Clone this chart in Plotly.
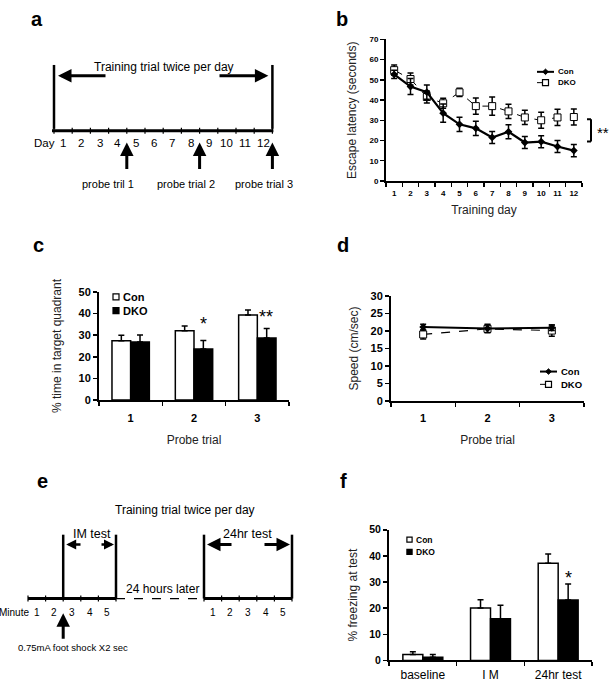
import plotly.graph_objects as go

# ---------------- data ----------------
days = [str(i) for i in range(1, 13)]
b_con = [52.7, 46.7, 43.9, 33.5, 28.0, 26.0, 21.5, 24.3, 19.0, 19.4, 17.0, 15.0]
b_con_err = [2.0, 4.0, 3.5, 4.5, 3.5, 3.5, 3.0, 3.5, 3.0, 3.0, 3.0, 3.0]
b_dko = [54.8, 50.4, 41.5, 38.4, 43.8, 37.0, 37.0, 34.4, 31.4, 30.0, 31.4, 31.6]
b_dko_err = [2.5, 3.0, 3.0, 2.5, 2.0, 4.0, 4.5, 3.5, 3.5, 4.0, 4.0, 4.0]

probe = ["1", "2", "3"]
c_con = [27.4, 32.0, 39.3]
c_con_err = [2.6, 2.2, 2.4]
c_dko = [26.8, 23.6, 28.7]
c_dko_err = [3.3, 4.0, 4.4]
c_sig = ["", "*", "**"]

d_con = [21.1, 20.7, 20.9]
d_con_err = [0.8, 1.2, 0.8]
d_dko = [19.0, 20.6, 20.1]
d_dko_err = [1.3, 1.0, 1.6]

f_cats = ["baseline", "I M", "24hr test"]
f_con = [2.3, 20.1, 37.2]
f_con_err = [1.0, 3.1, 3.5]
f_dko = [1.2, 16.0, 23.1]
f_dko_err = [1.1, 5.1, 6.2]
f_sig = ["", "", "*"]

series = ["Con", "DKO"]
a_day_labels = [str(i) for i in range(1, 13)]
a_probe_days = [4, 8, 12]
a_probe_labels = ["probe tril 1", "probe trial 2", "probe trial 3"]
e_minutes = ["1", "2", "3", "4", "5"]

# ---------------- helpers ----------------
W, H = 614, 693
FONT = "Liberation Sans, Arial, sans-serif"


def px(x):
    return x / W


def py(y):
    return 1 - y / H


shapes = []
annotations = []


def seg(x0, y0, x1, y1, w=2.0, dash=None):
    shapes.append(dict(type="line", xref="paper", yref="paper",
                       x0=px(x0), y0=py(y0), x1=px(x1), y1=py(y1),
                       line=dict(color="black", width=w, dash=dash)))


def text(x, y, s, size=12, bold=False, xanchor="center", yanchor="middle"):
    annotations.append(dict(xref="paper", yref="paper", x=px(x), y=py(y), text=s,
                            showarrow=False, xanchor=xanchor, yanchor=yanchor,
                            font=dict(family=FONT, size=size, color="black",
                                      weight="bold" if bold else "normal")))


def arrow(xh, yh, xt, yt, w=3.0, size=0.9):
    annotations.append(dict(xref="paper", yref="paper", x=px(xh), y=py(yh),
                            ax=xt - xh, ay=yt - yh, axref="pixel", ayref="pixel",
                            text="", showarrow=True, arrowhead=2, arrowsize=size,
                            arrowwidth=w, arrowcolor="black"))


def square(x, y, r, filled):
    shapes.append(dict(type="rect", xref="paper", yref="paper",
                       x0=px(x - r), x1=px(x + r), y0=py(y + r), y1=py(y - r),
                       fillcolor="black" if filled else "white",
                       line=dict(color="black", width=1.2)))


def diamond(x, y, r):
    path = (f"M {px(x)},{py(y - r)} L {px(x + r)},{py(y)} "
            f"L {px(x)},{py(y + r)} L {px(x - r)},{py(y)} Z")
    shapes.append(dict(type="path", xref="paper", yref="paper", path=path,
                       fillcolor="black", line=dict(color="black", width=1)))


def line_legend(x, y0, dy, size):
    seg(x, y0, x + 17, y0, 2)
    diamond(x + 8.5, y0, 2.8)
    text(x + 19, y0, series[0], size=size, bold=True, xanchor="left")
    seg(x, y0 + dy, x + 17, y0 + dy, 1, "dash")
    square(x + 8.5, y0 + dy, 3, False)
    text(x + 19, y0 + dy, series[1], size=size, bold=True, xanchor="left")


def bar_legend(x, y0, dy, size, r):
    square(x, y0, r, False)
    text(x + r + 2, y0, series[0], size=size, bold=True, xanchor="left")
    square(x, y0 + dy, r, True)
    text(x + r + 2, y0 + dy, series[1], size=size, bold=True, xanchor="left")


# ---------------- figure ----------------
fig = go.Figure()

err_style = dict(type="data", color="black", thickness=1.5, width=3)

# Panel b
fig.add_trace(go.Scatter(x=days, y=b_dko, name=series[1], mode="lines+markers",
                         line=dict(color="black", width=1, dash="dash"),
                         marker=dict(symbol="square", size=7, color="white",
                                     line=dict(color="black", width=1)),
                         error_y=dict(array=b_dko_err, **err_style),
                         xaxis="x", yaxis="y", showlegend=False))
fig.add_trace(go.Scatter(x=days, y=b_con, name=series[0], mode="lines+markers",
                         line=dict(color="black", width=2.2),
                         marker=dict(symbol="diamond", size=6, color="black"),
                         error_y=dict(array=b_con_err, **err_style),
                         xaxis="x", yaxis="y", showlegend=False))

# Panel c
fig.add_trace(go.Bar(x=probe, y=c_con, name=series[0],
                     marker=dict(color="white", line=dict(color="black", width=1.5)),
                     error_y=dict(array=c_con_err, arrayminus=[0] * 3, symmetric=False,
                                  **err_style),
                     xaxis="x2", yaxis="y2", showlegend=False))
fig.add_trace(go.Bar(x=probe, y=c_dko, name=series[1],
                     marker=dict(color="black", line=dict(color="black", width=1.5)),
                     error_y=dict(array=c_dko_err, arrayminus=[0] * 3, symmetric=False,
                                  **err_style),
                     xaxis="x2", yaxis="y2", showlegend=False))

# Panel d
fig.add_trace(go.Scatter(x=probe, y=d_dko, name=series[1], mode="lines+markers",
                         line=dict(color="black", width=1.2, dash="dash"),
                         marker=dict(symbol="square", size=7, color="white",
                                     line=dict(color="black", width=1)),
                         error_y=dict(array=d_dko_err, **err_style),
                         xaxis="x3", yaxis="y3", showlegend=False))
fig.add_trace(go.Scatter(x=probe, y=d_con, name=series[0], mode="lines+markers",
                         line=dict(color="black", width=2),
                         marker=dict(symbol="diamond", size=6, color="black"),
                         error_y=dict(array=d_con_err, **err_style),
                         xaxis="x3", yaxis="y3", showlegend=False))

# Panel f
fig.add_trace(go.Bar(x=f_cats, y=f_con, name=series[0],
                     marker=dict(color="white", line=dict(color="black", width=1.5)),
                     error_y=dict(array=f_con_err, arrayminus=[0] * 3, symmetric=False,
                                  **err_style),
                     xaxis="x4", yaxis="y4", showlegend=False))
fig.add_trace(go.Bar(x=f_cats, y=f_dko, name=series[1],
                     marker=dict(color="black", line=dict(color="black", width=1.5)),
                     error_y=dict(array=f_dko_err, arrayminus=[0] * 3, symmetric=False,
                                  **err_style),
                     xaxis="x4", yaxis="y4", showlegend=False))


def xax(dom, anchor, size, title, standoff, rng, bold=True, lstand=4):
    return dict(domain=[px(dom[0]), px(dom[1])], anchor=anchor, type="category",
                range=rng, tickangle=0,
                showline=True, linecolor="black", linewidth=2, mirror=False,
                ticks="outside", ticklen=4, tickwidth=1.5, tickcolor="black",
                tickson="boundaries", showgrid=False, zeroline=False,
                ticklabelstandoff=lstand,
                tickfont=dict(family=FONT, size=size, color="black",
                              weight="bold" if bold else "normal"),
                title=dict(text=title, standoff=standoff,
                           font=dict(family=FONT, size=12, color="#222")),
                fixedrange=True)


def yax(dom, anchor, rng, dtick, size, title, standoff):
    return dict(domain=[py(dom[1]), py(dom[0])], anchor=anchor, range=rng,
                dtick=dtick, showline=True, linecolor="black", linewidth=2,
                ticks="outside", ticklen=4, tickwidth=1.5, tickcolor="black",
                showgrid=False, zeroline=False,
                tickfont=dict(family=FONT, size=size, color="black", weight="bold"),
                title=dict(text=title, standoff=standoff,
                           font=dict(family=FONT, size=12, color="#222")),
                fixedrange=True)


layout = dict(
    width=W, height=H, margin=dict(l=0, r=0, t=0, b=0),
    paper_bgcolor="white", plot_bgcolor="rgba(0,0,0,0)",
    barmode="group", bargap=0.41, bargroupgap=0,
    showlegend=False, hovermode=False,
    xaxis=xax((386, 582), "y", 8, "Training day", 9, [-0.5, 11.5], lstand=3),
    yaxis=yax((34, 178), "x", [0, 70], 10, 8, "Escape latency (seconds)", 10),
    xaxis2=xax((99, 289), "y2", 11, "Probe trial", 12, [-0.5, 2.5], lstand=7),
    yaxis2=yax((291, 401), "x2", [0, 50], 10, 11, "% time in target quadrant", 14),
    xaxis3=xax((391, 584), "y3", 11, "Probe trial", 12, [-0.5, 2.5], lstand=6),
    yaxis3=yax((295, 402), "x3", [0, 30], 5, 11, "Speed (cm/sec)", 9),
    xaxis4=xax((389, 592), "y4", 12, "", 0, [-0.5, 2.5], bold=False, lstand=2),
    yaxis4=yax((533, 666), "x4", [0, 50], 10, 10.5, "% freezing at test", 9),
)

# significance stars (data coords; x given as category index)
for i, s in enumerate(c_sig):
    if s:
        annotations.append(dict(xref="x2", yref="y2", x=i, y=c_dko[i] + c_dko_err[i],
                                xshift=9, yshift=4 if len(s) == 1 else 0,
                                text=s, showarrow=False, yanchor="bottom",
                                font=dict(family=FONT, size=18, color="black")))
for i, s in enumerate(f_sig):
    if s:
        annotations.append(dict(xref="x4", yref="y4", x=i, y=f_dko[i] + f_dko_err[i],
                                xshift=10, yshift=-6,
                                text=s, showarrow=False, yanchor="bottom",
                                font=dict(family=FONT, size=18, color="black")))

# panel b bracket + **
shapes.append(dict(type="line", xref="paper", yref="y", x0=px(591), x1=px(591),
                   y0=19.5, y1=30.5, line=dict(color="black", width=2)))
shapes.append(dict(type="line", xref="paper", yref="y", x0=px(587), x1=px(591),
                   y0=19.5, y1=19.5, line=dict(color="black", width=2)))
shapes.append(dict(type="line", xref="paper", yref="y", x0=px(587), x1=px(591),
                   y0=30.5, y1=30.5, line=dict(color="black", width=2)))
annotations.append(dict(xref="paper", yref="y", x=px(603), y=25, text="**",
                        showarrow=False, xanchor="center", yanchor="middle", yshift=-2,
                        borderpad=0,
                        font=dict(family=FONT, size=15, color="black")))

# legends
line_legend(537, 67, 11, 8)
bar_legend(116, 296, 14, 11, 3)
line_legend(540, 372, 13, 9.5)
bar_legend(409.5, 543, 12.5, 8.5, 2.6)

# panel labels
for lab, (x, y) in zip("abcdef", [(37, 13), (342, 13), (38, 243), (343, 243), (42, 483), (343, 483)]):
    text(x, y, lab, size=20, bold=True)

# ---------------- panel a schematic ----------------
a_x0, a_step, a_axis_y = 54.0, 18.2, 127
a_x = lambda d: a_x0 + a_step * d
seg(a_x(0), 60, a_x(0), 125, 2.5)
seg(a_x(12), 60, a_x(12), 125, 2.5)
seg(a_x(0) - 2, a_axis_y, a_x(12) + 1, a_axis_y, 3)
for d in range(13):
    seg(a_x(d), a_axis_y - 3, a_x(d), a_axis_y + 3, 1.2)
text(44, 139, "Day", size=11.5)
for i, lab in enumerate(a_day_labels):
    text(a_x(i + 0.5), 139, lab, size=11.5)
text(164, 62, "Training trial twice per day", size=12)
arrow(a_x(0) + 4, 71, 107, 71)
arrow(a_x(12) - 4, 71, 218, 71)
for d, lab, lx in zip(a_probe_days, a_probe_labels, [108, 186, 264]):
    arrow(a_x(d), 139, a_x(d), 167)
    text(lx, 181, lab, size=11)

# ---------------- panel e schematic ----------------
e_step, e_y = 17.6, 603
e_l0, e_r0 = 28.0, 204.0
e_lx = lambda m: e_l0 + e_step * m
e_rx = lambda m: e_r0 + e_step * m
text(185, 513, "Training trial twice per day", size=12)
seg(e_lx(2), 538, e_lx(2), e_y, 2.5)
seg(e_lx(5), 538, e_lx(5), e_y, 2.5)
seg(e_rx(0), 538, e_rx(0), e_y, 2.5)
seg(e_rx(5), 538, e_rx(5), e_y, 2.5)
seg(e_lx(0), e_y, e_lx(5), e_y, 3)
seg(e_rx(0), e_y, e_rx(5), e_y, 3)
seg(e_lx(5), e_y, e_rx(0), e_y, 1.2, "dash")
for m in range(6):
    seg(e_lx(m), e_y - 3, e_lx(m), e_y + 3, 1.2)
    seg(e_rx(m), e_y - 3, e_rx(m), e_y + 3, 1.2)
text(31, 617, "Minute", size=10, xanchor="right")
for i, lab in enumerate(e_minutes):
    text(e_lx(i + 0.5), 617, lab, size=10)
    text(e_rx(i + 0.5), 617, lab, size=10)
text(92, 537, "IM test", size=12.5)
arrow(e_lx(2) + 3, 548, 82, 548, w=2.5, size=0.8)
arrow(e_lx(5) - 2, 548, 100, 548, w=2.5, size=0.8)
text(247, 537, "24hr test", size=12.5)
arrow(e_rx(0) + 3, 548, 233, 548)
arrow(e_rx(5) - 2, 548, 263, 548)
text(162, 593, "24 hours later", size=12)
arrow(e_lx(2), 618, e_lx(2), 645)
text(73, 653, "0.75mA foot shock X2 sec", size=9.5)

layout["shapes"] = shapes
layout["annotations"] = annotations
fig.update_layout(**layout)
fig.write_html("out.html", config={"displayModeBar": False, "staticPlot": True},
               post_script="document.body.style.margin='0px';document.body.style.overflow='hidden';")
